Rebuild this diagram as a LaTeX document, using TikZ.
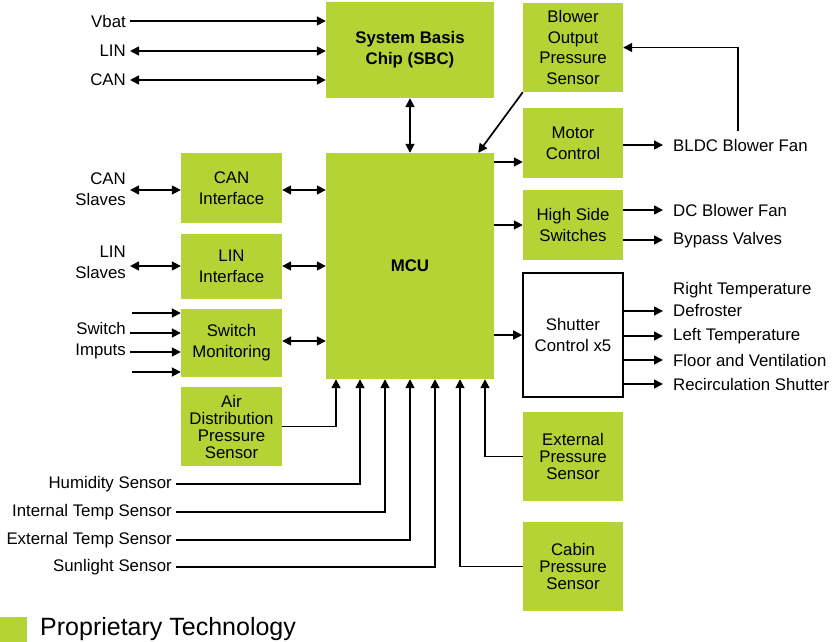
\documentclass[tikz,border=0pt]{standalone}
\usepackage{fontspec}
\setmainfont{Liberation Sans}
\usetikzlibrary{arrows.meta}
\definecolor{prop}{RGB}{181,211,52}
\begin{document}
\begin{tikzpicture}[x=1pt,y=-1pt,
  font=\fontsize{16.8pt}{20.7pt}\selectfont,
  gbox/.style={fill=prop,draw=none,align=center,inner sep=0pt,minimum width=#1},
  tight/.style={font=\fontsize{16.8pt}{17pt}\selectfont},
  wbox/.style={fill=white,draw=black,line width=1.6pt,align=center,inner sep=0pt,minimum width=#1},
  lbl/.style={inner xsep=4pt,inner ysep=0pt,align=right},
  rlbl/.style={inner xsep=10pt,inner ysep=0pt,align=left},
  arr/.style={line width=1.7pt,-{Triangle[length=9pt,width=9pt]}},
  dbl/.style={line width=1.7pt,{Triangle[length=9pt,width=9pt]}-{Triangle[length=9pt,width=9pt]}}]
\useasboundingbox (0,0) rectangle (835,642);
% boxes
\node[gbox=168pt,minimum height=96pt,font=\fontsize{16.8pt}{20.7pt}\bfseries] (sbc) at (410,50) {System Basis\\Chip (SBC)};
\node[gbox=168pt,minimum height=226pt,font=\fontsize{16.8pt}{20.7pt}\bfseries] (mcu) at (410,266) {MCU};
\node[gbox=100pt,minimum height=89pt] (bops) at (573,47.5) {Blower\\Output\\Pressure\\Sensor};
\node[gbox=100pt,minimum height=70pt] (motor) at (573,143) {Motor\\Control};
\node[gbox=100pt,minimum height=70pt] (hss) at (573,225) {High Side\\Switches};
\node[wbox=100pt,minimum height=124pt] (shut) at (573,335) {Shutter\\Control x5};
\node[gbox=100pt,minimum height=89pt,tight] (ext) at (573,456.5) {External\\Pressure\\Sensor};
\node[gbox=100pt,minimum height=89pt,tight] (cab) at (573,566.5) {Cabin\\Pressure\\Sensor};
\node[gbox=101pt,minimum height=70pt] (canif) at (231.5,188) {CAN\\Interface};
\node[gbox=101pt,minimum height=65pt] (linif) at (231.5,266.5) {LIN\\Interface};
\node[gbox=101pt,minimum height=68pt] (swm) at (231.5,343) {Switch\\Monitoring};
\node[gbox=101pt,minimum height=79pt,tight] (air) at (231.5,426.5) {Air\\Distribution\\Pressure\\Sensor};
% left labels
\node[lbl,anchor=east] (vbat) at (130,21) {Vbat};
\node[lbl,anchor=east] (lin) at (130,51) {LIN};
\node[lbl,anchor=east] (can) at (130,80) {CAN};
\node[lbl,anchor=east] (cans) at (130,189) {CAN\\Slaves};
\node[lbl,anchor=east] (lins) at (130,262) {LIN\\Slaves};
\node[lbl,anchor=east] (swi) at (130,341) {Switch\\Imputs};
\coordinate (s1) at (132,313);
\coordinate (s4) at (132,372);
% sensor labels
\node[lbl,anchor=east] (hum) at (176,484) {Humidity Sensor};
\node[lbl,anchor=east] (itemp) at (176,512) {Internal Temp Sensor};
\node[lbl,anchor=east] (etemp) at (176,540) {External Temp Sensor};
\node[lbl,anchor=east] (sun) at (176,567) {Sunlight Sensor};
% right labels
\node[rlbl,anchor=west] (bldc) at (663,145) {BLDC Blower Fan};
\node[rlbl,anchor=west] (dcf) at (663,210) {DC Blower Fan};
\node[rlbl,anchor=west] (byp) at (663,240) {Bypass Valves};
\node[rlbl,anchor=west] (rtemp) at (663,290) {Right Temperature};
\node[rlbl,anchor=west] (defr) at (663,311) {Defroster};
\node[rlbl,anchor=west] (ltemp) at (663,336) {Left Temperature};
\node[rlbl,anchor=west] (floor) at (663,360) {Floor and Ventilation};
\node[rlbl,anchor=west] (recirc) at (663,384) {Recirculation Shutter};
\coordinate (fb) at (738,131);
% SBC connections
\draw[arr] (vbat.east) -- (sbc.west |- vbat.east);
\draw[dbl] (lin.east) -- (sbc.west |- lin.east);
\draw[dbl] (can.east) -- (sbc.west |- can.east);
\draw[dbl] (sbc.south) -- (mcu.north);
% left side
\draw[dbl] (cans.east |- 0,190) -- (canif.west |- 0,190);
\draw[dbl] (canif.east |- 0,190) -- (mcu.west |- 0,190);
\draw[dbl] (lins.east |- 0,266) -- (linif.west |- 0,266);
\draw[dbl] (linif.east |- 0,266) -- (mcu.west |- 0,266);
\draw[arr] (s1) -- (swm.west |- s1);
\draw[arr] (swi.east |- 0,333) -- (swm.west |- 0,333);
\draw[arr] (swi.east |- 0,352) -- (swm.west |- 0,352);
\draw[arr] (s4) -- (swm.west |- s4);
\draw[dbl] (swm.east |- 0,341) -- (mcu.west |- 0,341);
\draw[arr] (air.east) -| ([xshift=-74pt]mcu.south);
% sensors
\draw[arr] (hum.east) -| ([xshift=-50pt]mcu.south);
\draw[arr] (itemp.east) -| ([xshift=-25pt]mcu.south);
\draw[arr] (etemp.east) -| (mcu.south);
\draw[arr] (sun.east) -| ([xshift=25pt]mcu.south);
\draw[arr] (cab.west) -| ([xshift=50pt]mcu.south);
\draw[arr] (ext.west) -| ([xshift=75pt]mcu.south);
% right side
\draw[arr] (bops.south west) -- ([xshift=-16pt]mcu.north east);
\draw[arr] (mcu.east |- 0,162) -- (motor.west |- 0,162);
\draw[arr] (motor.east |- bldc.west) -- (bldc.west);
\draw[arr] (fb) |- (bops.east);
\draw[arr] (mcu.east |- hss.west) -- (hss.west);
\draw[arr] (hss.east |- dcf.west) -- (dcf.west);
\draw[arr] (hss.east |- byp.west) -- (byp.west);
\draw[arr] (mcu.east |- shut.west) -- (shut.west);
\draw[arr] (shut.east |- defr.west) -- (defr.west);
\draw[arr] (shut.east |- ltemp.west) -- (ltemp.west);
\draw[arr] (shut.east |- floor.west) -- (floor.west);
\draw[arr] (shut.east |- recirc.west) -- (recirc.west);
% legend
\fill[prop] (0,617) rectangle (27,642);
\node[anchor=west,inner sep=0pt,font=\fontsize{25pt}{29pt}\selectfont] (leg) at (40,629) {Proprietary Technology};
\end{tikzpicture}
\end{document}
